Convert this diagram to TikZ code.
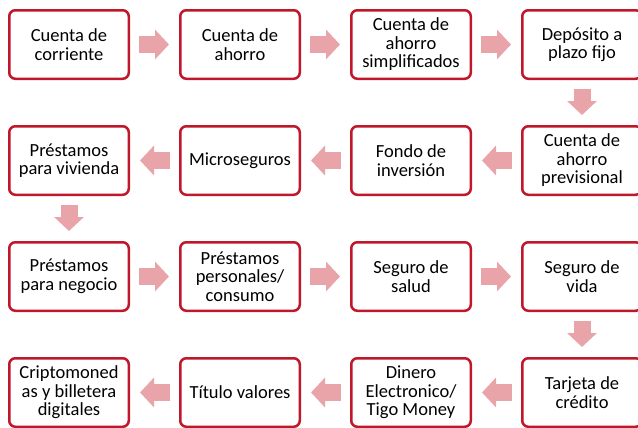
\documentclass[tikz,border=0pt]{standalone}
\usepackage{fontspec}
\setmainfont{Carlito}
\usetikzlibrary{positioning}
\usetikzlibrary{arrows.meta}
\definecolor{boxred}{HTML}{C0172B}
\definecolor{arrowpink}{HTML}{E9A4A9}

\begin{document}
\begin{tikzpicture}[auto,node distance=45bp and 49bp,
box/.style={draw=boxred, line width=2.5bp, rounded corners=6bp, fill=white,
  minimum width=119.5bp, minimum height=68.5bp, inner sep=0pt, align=center,
  font=\fontsize{18.5bp}{18.5bp}\selectfont},
flow/.style={draw=arrowpink, line width=17bp, -{Triangle[length=14bp,width=29bp]},
  shorten <=9bp, shorten >=10bp}
]
\useasboundingbox (0,0) rectangle (638bp,-428bp);
%first row
\node[box] (ctacorr) at (69bp,-44.5bp) {Cuenta de\\corriente};
\node[box, right=of ctacorr] (ctaahorro) {Cuenta de\\ahorro};
\node[box, right=of ctaahorro] (ctasimpl) {Cuenta de\\ahorro\\simplificados};
\node[box, right=of ctasimpl] (deposito) {Depósito a\\plazo fijo};

%second row
\node[box, below=of deposito] (ctaprev) {Cuenta de\\ahorro\\previsional};
\node[box, left=of ctaprev] (fondo) {Fondo de\\inversión};
\node[box, left=of fondo] (microseg) {Microseguros};
\node[box, left=of microseg] (prestviv) {Préstamos\\para vivienda};

%third row
\node[box, below=of prestviv] (prestneg) {Préstamos\\para negocio};
\node[box, right=of prestneg] (prestpers) {Préstamos\\personales/\\consumo};
\node[box, right=of prestpers] (segsalud) {Seguro de\\salud};
\node[box, right=of segsalud] (segvida) {Seguro de\\vida};

%fourth row
\node[box, below=of segvida] (tarjeta) {Tarjeta de\\crédito};
\node[box, left=of tarjeta] (dinero) {Dinero\\Electronico/\\Tigo Money};
\node[box, left=of dinero] (titulo) {Título valores};
\node[box, left=of titulo] (cripto) {Criptomoned\\as y billetera\\digitales};

%draw arrows
\draw[flow] (ctacorr.east) -- (ctaahorro.west);
\draw[flow] (ctaahorro.east) -- (ctasimpl.west);
\draw[flow] (ctasimpl.east) -- (deposito.west);
\draw[flow] (deposito.south) -- (ctaprev.north);

\draw[flow] (ctaprev.west) -- (fondo.east);
\draw[flow] (fondo.west) -- (microseg.east);
\draw[flow] (microseg.west) -- (prestviv.east);
\draw[flow] (prestviv.south) -- (prestneg.north);

\draw[flow] (prestneg.east) -- (prestpers.west);
\draw[flow] (prestpers.east) -- (segsalud.west);
\draw[flow] (segsalud.east) -- (segvida.west);
\draw[flow] (segvida.south) -- (tarjeta.north);

\draw[flow] (tarjeta.west) -- (dinero.east);
\draw[flow] (dinero.west) -- (titulo.east);
\draw[flow] (titulo.west) -- (cripto.east);

\end{tikzpicture}
\end{document}
